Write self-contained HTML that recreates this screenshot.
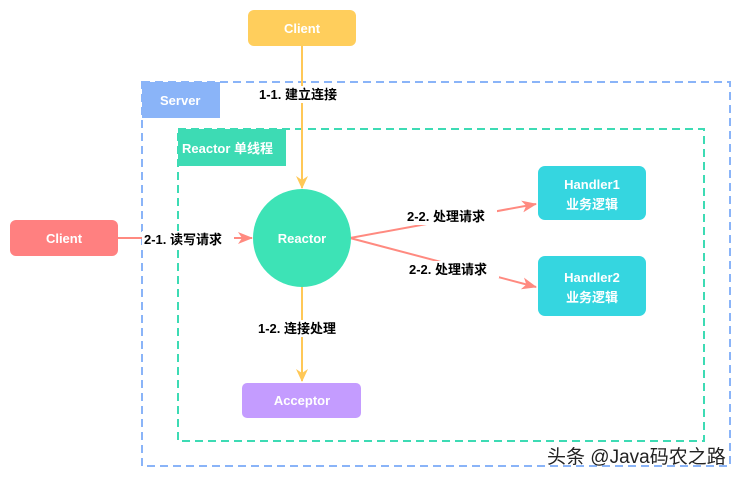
<!DOCTYPE html>
<html><head><meta charset="utf-8"><style>
body{margin:0;width:743px;height:479px;background:#fff;overflow:hidden;font-family:"Liberation Sans","Noto Sans CJK SC",sans-serif}
</style></head><body>
<svg width="743" height="479" xmlns="http://www.w3.org/2000/svg" font-family="Liberation Sans, Noto Sans CJK SC, sans-serif">
<defs>
<marker id="ay" markerWidth="14" markerHeight="14" refX="12" refY="7" orient="auto" markerUnits="userSpaceOnUse"><path d="M0,1 L13,7 L0,13 L4,7z" fill="#FFC857"/></marker>
<marker id="ar" markerWidth="16" markerHeight="14" refX="14" refY="7" orient="auto" markerUnits="userSpaceOnUse"><path d="M0,1 L15,7 L0,13 L4,7z" fill="#FF8A80"/></marker>
</defs>
<rect x="142" y="82" width="588" height="384" fill="none" stroke="#8AB4F8" stroke-width="2" stroke-dasharray="8 5"/>
<rect x="142" y="82" width="78" height="36" fill="#8AB4F8"/>
<text x="160" y="105" fill="#fff" font-size="13" font-weight="bold">Server</text>
<rect x="178" y="129" width="526" height="312" fill="none" stroke="#3DDBB4" stroke-width="2" stroke-dasharray="8 5"/>
<rect x="178" y="129" width="108" height="37" fill="#3DDBB4"/>
<text x="182" y="153" fill="#fff" font-size="13" font-weight="bold">Reactor 单线程</text>
<line x1="302" y1="46" x2="302" y2="188" stroke="#FFC857" stroke-width="2" marker-end="url(#ay)"/>
<line x1="302" y1="286" x2="302" y2="381" stroke="#FFC857" stroke-width="2" marker-end="url(#ay)"/>
<line x1="118" y1="238" x2="252" y2="238" stroke="#FF8A80" stroke-width="2" marker-end="url(#ar)"/>
<line x1="350" y1="238" x2="536" y2="204" stroke="#FF8A80" stroke-width="2" marker-end="url(#ar)"/>
<line x1="350" y1="238" x2="536" y2="287" stroke="#FF8A80" stroke-width="2" marker-end="url(#ar)"/>
<rect x="248" y="10" width="108" height="36" rx="6" fill="#FFCE5C"/>
<text x="302" y="33" fill="#fff" font-size="13" font-weight="bold" text-anchor="middle">Client</text>
<rect x="10" y="220" width="108" height="36" rx="6" fill="#FF8080"/>
<text x="64" y="243" fill="#fff" font-size="13" font-weight="bold" text-anchor="middle">Client</text>
<circle cx="302" cy="238" r="49" fill="#3DE3B6"/>
<text x="302" y="243" fill="#fff" font-size="13" font-weight="bold" text-anchor="middle">Reactor</text>
<rect x="538" y="166" width="108" height="54" rx="7" fill="#35D6E0"/>
<text x="592" y="189" fill="#fff" font-size="13" font-weight="bold" text-anchor="middle">Handler1</text>
<text x="592" y="209" fill="#fff" font-size="13" font-weight="bold" text-anchor="middle">业务逻辑</text>
<rect x="538" y="256" width="108" height="60" rx="7" fill="#35D6E0"/>
<text x="592" y="282" fill="#fff" font-size="13" font-weight="bold" text-anchor="middle">Handler2</text>
<text x="592" y="302" fill="#fff" font-size="13" font-weight="bold" text-anchor="middle">业务逻辑</text>
<rect x="242" y="383" width="119" height="35" rx="5" fill="#C49CFF"/>
<text x="302" y="405" fill="#fff" font-size="13" font-weight="bold" text-anchor="middle">Acceptor</text>
<g font-size="13" fill="#000" font-weight="bold">
<rect x="257" y="86" width="90" height="17" fill="#fff"/><text x="259" y="99">1-1. 建立连接</text>
<rect x="255" y="320" width="94" height="17" fill="#fff"/><text x="258" y="333">1-2. 连接处理</text>
<rect x="142" y="231" width="92" height="17" fill="#fff"/><text x="144" y="244">2-1. 读写请求</text>
<rect x="405" y="208" width="92" height="17" fill="#fff"/><text x="407" y="221">2-2. 处理请求</text>
<rect x="407" y="261" width="92" height="17" fill="#fff"/><text x="409" y="274">2-2. 处理请求</text>
</g>
<text x="547" y="463" font-size="19" fill="#222">头条 @Java码农之路</text>
</svg>
</body></html>
